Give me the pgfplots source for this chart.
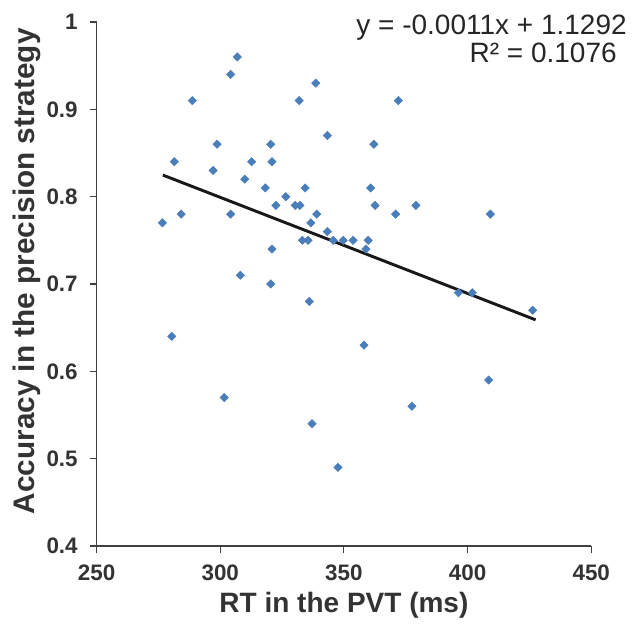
\documentclass[border=0pt]{standalone}
\usepackage{pgfplots}
\pgfplotsset{compat=1.18}
\usepackage{fontspec}
\setmainfont{Liberation Sans}
\definecolor{ptblue}{HTML}{4A7EBB}
\definecolor{axgray}{HTML}{404040}
\begin{document}
\begin{tikzpicture}
\path[use as bounding box] (-72.45pt,-59.25pt) rectangle (403.8pt,409.5pt);
\begin{axis}[
  at={(0,0)}, anchor=south west,
  scale only axis,
  width=371pt, height=393pt,
  xmin=250, xmax=450, ymin=0.4, ymax=1,
  axis lines*=left,
  axis line style={axgray, line width=0.8pt},
  xtick={250,300,350,400,450},
  xticklabels={250,300,350,400,450},
  ytick={0.4,0.5,0.6,0.7,0.8,0.9,1},
  yticklabels={0.4,0.5,0.6,0.7,0.8,0.9,1},
  tick align=outside,
  major tick length=5.25pt,
  tick style={axgray, line width=0.8pt},
  xticklabel style={font=\fontsize{16.8}{18}\selectfont\bfseries, text=axgray!80!black, anchor=base, inner sep=0pt, yshift=-20.25pt},
  yticklabel style={font=\fontsize{16.8}{18}\selectfont\bfseries, text=axgray!80!black, anchor=east, inner sep=0pt, xshift=-8.75pt},
  clip=false,
]
\addplot[only marks, mark=square*, mark size=2.2pt, mark options={rotate=45, fill=ptblue, draw=ptblue}] coordinates {
(306.9,0.96) (304.2,0.94) (288.7,0.91) (338.6,0.93) (331.9,0.91) (372.0,0.91)
(298.7,0.86) (320.4,0.86) (343.3,0.87) (362.1,0.86)
(281.4,0.84) (312.7,0.84) (320.9,0.84) (297.1,0.83) (309.9,0.82)
(318.2,0.81) (334.3,0.81) (360.8,0.81) (326.5,0.80)
(322.5,0.79) (330.3,0.79) (332.2,0.79) (362.6,0.79) (379.1,0.79)
(284.2,0.78) (304.2,0.78) (339.0,0.78) (370.9,0.78) (409.2,0.78)
(276.6,0.77) (336.6,0.77) (343.3,0.76)
(333.2,0.75) (335.5,0.75) (345.7,0.75) (349.7,0.75) (353.7,0.75) (359.8,0.75)
(320.9,0.74) (358.9,0.74) (308.1,0.71) (320.4,0.70)
(396.3,0.69) (401.9,0.69) (336.0,0.68) (426.3,0.67)
(280.4,0.64) (358.1,0.63) (408.5,0.59) (301.6,0.57) (377.5,0.56)
(337.1,0.54) (347.6,0.49)
};
\addplot[color={black!90}, line width=2.2pt] coordinates {(276.8,0.82472) (427.5,0.65895)};
\end{axis}
\node[anchor=base east, inner sep=0pt, font=\fontsize{21}{24}\selectfont, text=black!85] at (397.8pt,383.25pt) {y = -0.0011x + 1.1292};
\node[anchor=base east, inner sep=0pt, font=\fontsize{21}{24}\selectfont, text=black!85] at (390.3pt,362.25pt) {R² = 0.1076};
\node[anchor=base, inner sep=0pt, font=\fontsize{21}{24}\selectfont\bfseries, text=axgray!80!black] at (185.5pt,-49.5pt) {RT in the PVT (ms)};
\node[anchor=base, rotate=90, inner sep=0pt, font=\fontsize{22.3}{24}\selectfont\bfseries, text=axgray!80!black] at (-46.2pt,206pt) {Accuracy in the precision strategy};
\end{tikzpicture}
\end{document}
